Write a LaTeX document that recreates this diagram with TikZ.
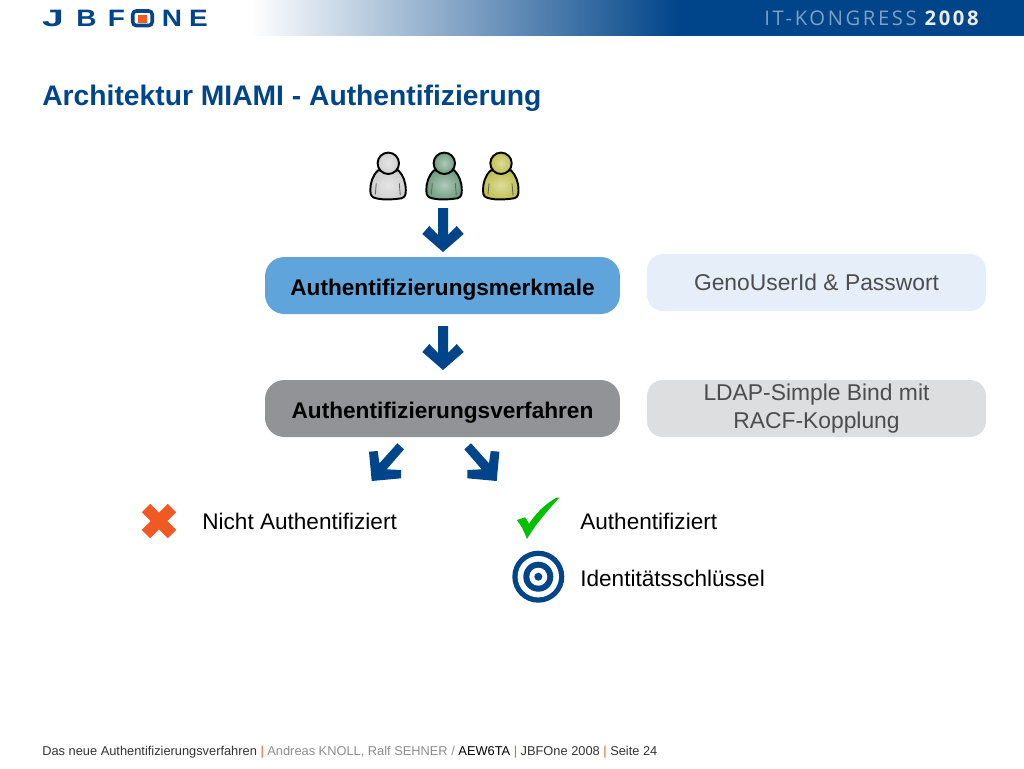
\documentclass[tikz,border=0pt]{standalone}
\usepackage{fontspec}
\setmainfont{Liberation Sans}
\newfontfamily\bannerfont[LetterSpace=13]{Open Sans}
\definecolor{jbfblue}{HTML}{004489}
\definecolor{jbforange}{HTML}{F05A22}
\definecolor{merkblue}{HTML}{5FA5DB}
\definecolor{merklight}{HTML}{E6EFF9}
\definecolor{verfgrey}{HTML}{929396}
\definecolor{verflight}{HTML}{DDDEE0}
\definecolor{footgrey}{HTML}{8C8C8C}
\definecolor{persongrey}{HTML}{CFCFCF}
\definecolor{persongreen}{HTML}{6F9E80}
\definecolor{personolive}{HTML}{BFC04E}
\definecolor{checkgreen}{HTML}{00C000}
\newcommand{\fs}[1]{\fontsize{#1}{#1}\selectfont}
\tikzset{
  mainbox/.style={rectangle,rounded corners=11pt,minimum width=7.1cm,minimum height=1.14cm,inner sep=0pt,text height=11pt,text depth=0pt,font=\fs{12.88}\bfseries},
  sidebox/.style={rectangle,rounded corners=9pt,minimum width=6.78cm,minimum height=1.14cm,inner sep=0pt,align=center,font=\fs{13},text=black!70},
  plain/.style={inner sep=0pt,anchor=west,font=\fs{12.85}},
  logoletter/.style={inner sep=0pt,text=jbfblue,font=\fs{13.5}\bfseries,xscale=1.18,transform shape},
  pics/flowarrow/.style={code={
    \fill [jbfblue] (0,0) -- (20.7,-18) -- (13.7,-26) -- (5,-17) -- (5,-44) -- (-5,-44) -- (-5,-17) -- (-13.7,-26) -- (-20.7,-18) -- cycle;
  }},
  pics/diagarrow/.style={code={
    \fill [jbfblue] (0,0) -- (-2.7,-29.3) -- (6,-30) -- (7.7,-17.7) -- (25.7,-37.7) -- (32.3,-31.7) -- (15,-11.7) -- (29.3,-11) -- (29.3,-2.7) -- cycle;
  }},
  pics/person/.style={code={
    \draw [line width=1.1pt,inner color=#1!55!white,outer color=#1,shading=radial] (-10,7) .. controls (-16,12) and (-18,20) .. (-18,27) .. controls (-18,33) and (-16,34) .. (-12,35) .. controls (-4,37) and (6,36) .. (13,35) .. controls (17,34) and (17.5,31) .. (17.5,27) .. controls (17.5,19) and (15,12) .. (10,7) -- cycle;
    \draw [line width=0.5pt,black!60] (-12,20) -- (-13,31) (11,20) -- (12,32);
    \draw [line width=1.1pt,inner color=#1!55!white,outer color=#1,shading=radial] (0,0) circle (10.7);
  }}
}
\begin{document}
\begin{tikzpicture}[x=0.02cm,y=-0.02cm]
\useasboundingbox (0,0) rectangle (1024,768);
\fill [jbfblue] (679,0) rectangle (1024,36);
\shade [left color=white,right color=jbfblue] (250,0) rectangle (680,35.6);
\node [logoletter,xscale=1.4] (logoj) at (53,18.5) {J};
\node [logoletter] (logob) at (86.5,18.5) {B};
\node [logoletter] (logof) at (116.5,18.5) {F};
\draw [jbfblue,line width=2pt,rounded corners=2pt] (132.75,11) rectangle (152.25,25.5);
\fill [jbforange] (138,14.5) rectangle (147,22.5);
\node [logoletter] (logon) at (172,18.5) {N};
\node [logoletter] (logoe) at (198.5,18.5) {E};
\node [inner sep=0pt,anchor=east,font=\bannerfont\fs{11.5}] (banner) at (979,18) {\textcolor{jbfblue!50!white}{IT-KONGRESS} \textcolor{black!8}{\bfseries 2008}};
\node [inner sep=0pt,anchor=west,text=jbfblue,font=\fs{16.08}\bfseries] (title) at (42,98) {Architektur MIAMI - Authentifizierung};
\pic at (388.3,163.3) {person=persongrey};
\pic at (444.3,163.3) {person=persongreen};
\pic at (501,163.3) {person=personolive};
\pic at (443,252) {flowarrow};
\pic at (443,370) {flowarrow};
\pic at (371.7,481) {diagarrow};
\pic [xscale=-1] at (496.7,481) {diagarrow};
\node [mainbox,fill=merkblue] (merkmale) at (442.5,285.5) {Authentifizierungsmerkmale};
\node [mainbox,fill=verfgrey] (verfahren) at (442.5,408.5) {Authentifizierungsverfahren};
\node [sidebox,fill=merklight] (geno) at (816.5,282.5) {GenoUserId \& Passwort};
\node [sidebox,fill=verflight] (ldap) at (816.5,408.5) {LDAP-Simple Bind mit\\[2.8pt]RACF-Kopplung};
\draw [jbforange,line width=6.8pt] (146,508) -- (172,534) (172,508) -- (146,534);
\node [plain] (nicht) at (202,521) {Nicht Authentifiziert};
\fill [checkgreen] (559.3,497.7) .. controls (548,510) and (535,525) .. (527,539) .. controls (524,531) and (521,525) .. (516.7,520) -- (525,517.3) .. controls (527,519) and (528,522) .. (529,524) .. controls (535,514) and (546,503) .. (557,497.5) -- cycle;
\node [plain] (auth) at (580,521) {Authentifiziert};
\fill [jbfblue] (538.3,576.7) circle (26);
\fill [white] (538.3,576.7) circle (20.7);
\fill [jbfblue] (538.3,576.7) circle (15);
\fill [white] (538.3,576.7) circle (9);
\fill [jbfblue] (538.3,576.7) circle (4);
\node [plain] (schluessel) at (580,578) {Identitätsschlüssel};
\node [inner sep=0pt,anchor=west,text=black!80,font=\fs{7.3}] (footer) at (42,752) {Das neue Authentifizierungsverfahren \textcolor{jbforange}{|} \textcolor{footgrey}{Andreas KNOLL, Ralf SEHNER /} \textcolor{black}{AEW6TA} \textcolor{jbforange}{|} JBFOne 2008 \textcolor{jbforange}{|} Seite 24};
\end{tikzpicture}
\end{document}
